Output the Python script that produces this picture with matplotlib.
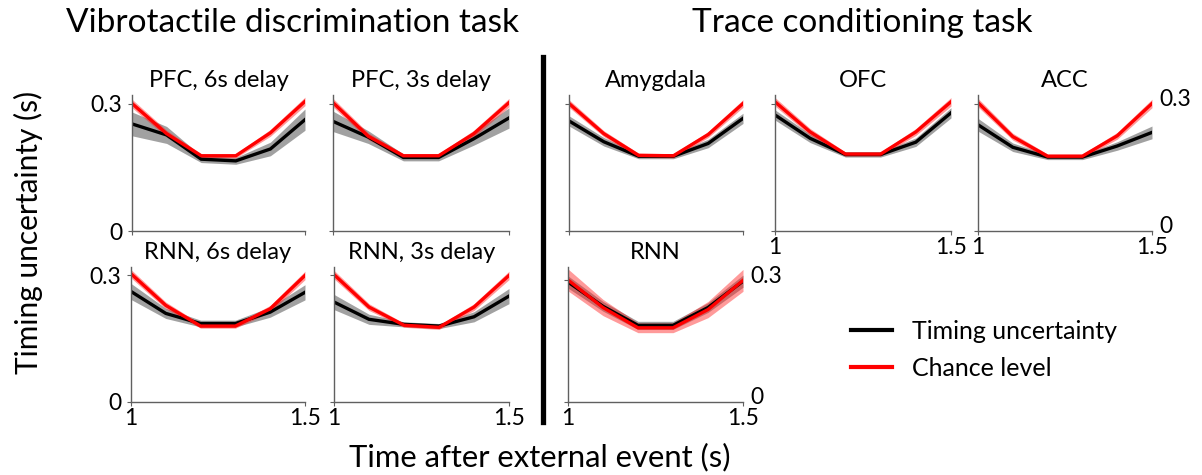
import matplotlib
matplotlib.use("Agg")
import matplotlib.pyplot as plt
from matplotlib.lines import Line2D
from matplotlib.transforms import offset_copy

plt.rcParams['font.family'] = ['Lato', 'DejaVu Sans']

W, H = 1202, 475

# time points (s)
x = [1.0, 1.1, 1.2, 1.3, 1.4, 1.5]
xtick_vals = [1.0, 1.5]
xtick_text = ['1', '1.5']
ytick_vals = [0, 0.3]
ytick_text = ['0', '0.3']

# vibrotactile discrimination task
pfc6_unc = [0.252, 0.226, 0.169, 0.165, 0.193, 0.262]
pfc6_unc_err = [0.028, 0.020, 0.008, 0.008, 0.016, 0.025]
pfc6_chance = [0.300, 0.229, 0.177, 0.177, 0.231, 0.305]
pfc6_chance_err = [0.010, 0.008, 0.005, 0.005, 0.008, 0.010]

pfc3_unc = [0.258, 0.221, 0.173, 0.173, 0.217, 0.266]
pfc3_unc_err = [0.024, 0.015, 0.008, 0.008, 0.015, 0.024]
pfc3_chance = [0.302, 0.223, 0.177, 0.177, 0.229, 0.302]
pfc3_chance_err = [0.010, 0.008, 0.005, 0.005, 0.008, 0.010]

rnn6_unc = [0.262, 0.210, 0.186, 0.186, 0.213, 0.260]
rnn6_unc_err = [0.019, 0.012, 0.008, 0.008, 0.012, 0.018]
rnn6_chance = [0.304, 0.229, 0.180, 0.180, 0.221, 0.300]
rnn6_chance_err = [0.010, 0.008, 0.005, 0.005, 0.008, 0.010]

rnn3_unc = [0.237, 0.196, 0.184, 0.180, 0.202, 0.251]
rnn3_unc_err = [0.018, 0.012, 0.006, 0.006, 0.012, 0.018]
rnn3_chance = [0.302, 0.225, 0.182, 0.177, 0.225, 0.300]
rnn3_chance_err = [0.010, 0.008, 0.005, 0.005, 0.008, 0.010]

# trace conditioning task
amy_unc = [0.259, 0.210, 0.176, 0.176, 0.206, 0.265]
amy_unc_err = [0.012, 0.010, 0.006, 0.006, 0.010, 0.012]
amy_chance = [0.300, 0.229, 0.178, 0.177, 0.227, 0.300]
amy_chance_err = [0.009, 0.007, 0.005, 0.005, 0.007, 0.009]

ofc_unc = [0.273, 0.218, 0.180, 0.180, 0.209, 0.278]
ofc_unc_err = [0.012, 0.010, 0.006, 0.006, 0.010, 0.012]
ofc_chance = [0.304, 0.233, 0.181, 0.181, 0.233, 0.304]
ofc_chance_err = [0.010, 0.008, 0.005, 0.005, 0.008, 0.010]

acc_unc = [0.250, 0.197, 0.174, 0.174, 0.200, 0.232]
acc_unc_err = [0.015, 0.010, 0.006, 0.006, 0.010, 0.015]
acc_chance = [0.302, 0.222, 0.176, 0.176, 0.224, 0.300]
acc_chance_err = [0.010, 0.008, 0.005, 0.005, 0.008, 0.010]

rnnt_unc = [0.296, 0.236, 0.189, 0.189, 0.233, 0.298]
rnnt_unc_err = [0.015, 0.012, 0.010, 0.010, 0.012, 0.015]
rnnt_chance = [0.301, 0.233, 0.183, 0.183, 0.228, 0.300]
rnnt_chance_err = [0.027, 0.020, 0.012, 0.012, 0.020, 0.027]

fig = plt.figure(figsize=(W / 100, H / 100), dpi=100)

TICK_FS = 16.5


def px_axes(x0, x1, top, bottom):
    return fig.add_axes([x0 / W, 1 - bottom / H, (x1 - x0) / W, (bottom - top) / H])


def draw_panel(ax, unc, unc_err, ch, ch_err, title, ylab=None, xlab=False, ytop=0.32):
    lo = [m - e for m, e in zip(unc, unc_err)]
    hi = [m + e for m, e in zip(unc, unc_err)]
    ax.fill_between(x, lo, hi, color='#7a7a7a', alpha=0.7, lw=0)
    ax.plot(x, unc, color='black', lw=2.4, solid_joinstyle='miter')
    lo = [m - e for m, e in zip(ch, ch_err)]
    hi = [m + e for m, e in zip(ch, ch_err)]
    ax.fill_between(x, lo, hi, color='#ff2020', alpha=0.45, lw=0)
    ax.plot(x, ch, color='#ff0000', lw=2.4, solid_joinstyle='miter')
    ax.set_xlim(1.0, 1.5)
    ax.set_ylim(0, ytop)
    for s in ('top', 'right'):
        ax.spines[s].set_visible(False)
    for s in ('left', 'bottom'):
        ax.spines[s].set_color('#606060')
        ax.spines[s].set_linewidth(1.0)
    ax.set_xticks(xtick_vals)
    ax.set_yticks(ytick_vals)
    ax.tick_params(length=3, width=0.8, color='#606060', labelsize=TICK_FS, pad=1)
    ax.set_xticklabels(xtick_text if xlab else [])
    ax.set_yticklabels(ytick_text)
    ax.tick_params(axis='y', labelleft=(ylab == 'left'), pad=4)
    if ylab == 'right':
        # value labels on the right edge, lifted slightly clear of the x labels
        tr = offset_copy(ax.get_yaxis_transform(), fig=fig, x=5, y=3, units='points')
        for v, t in zip(ytick_vals, ytick_text):
            ax.text(1.0, v, t, transform=tr, ha='left', va='center', fontsize=TICK_FS)
    ax.set_title(title, fontsize=17, pad=6)


ax = px_axes(132, 305, 95, 231)
draw_panel(ax, pfc6_unc, pfc6_unc_err, pfc6_chance, pfc6_chance_err, 'PFC, 6s delay', ylab='left')
ax = px_axes(333, 509, 95, 231)
draw_panel(ax, pfc3_unc, pfc3_unc_err, pfc3_chance, pfc3_chance_err, 'PFC, 3s delay')
ax = px_axes(131, 305, 267, 402)
draw_panel(ax, rnn6_unc, rnn6_unc_err, rnn6_chance, rnn6_chance_err, 'RNN, 6s delay', ylab='left', xlab=True)
ax = px_axes(334, 509, 267, 402)
draw_panel(ax, rnn3_unc, rnn3_unc_err, rnn3_chance, rnn3_chance_err, 'RNN, 3s delay', xlab=True)

ax = px_axes(569, 743, 95, 231)
draw_panel(ax, amy_unc, amy_unc_err, amy_chance, amy_chance_err, 'Amygdala')
ax = px_axes(775, 951, 95, 231)
draw_panel(ax, ofc_unc, ofc_unc_err, ofc_chance, ofc_chance_err, 'OFC', xlab=True)
ax = px_axes(978, 1152, 95, 231)
draw_panel(ax, acc_unc, acc_unc_err, acc_chance, acc_chance_err, 'ACC', ylab='right', xlab=True)
ax = px_axes(568, 743, 267, 402)
draw_panel(ax, rnnt_unc, rnnt_unc_err, rnnt_chance, rnnt_chance_err, 'RNN', ylab='right', xlab=True, ytop=0.333)

# group titles, shared axis labels, divider
fig.text(293 / W, 1 - 23 / H, 'Vibrotactile discrimination task', ha='center', va='center', fontsize=24)
fig.text(862 / W, 1 - 23 / H, 'Trace conditioning task', ha='center', va='center', fontsize=24)
fig.text(28 / W, 1 - 232 / H, 'Timing uncertainty (s)', rotation=90, ha='center', va='center', fontsize=21.5)
fig.text(540 / W, 1 - 457 / H, 'Time after external event (s)', ha='center', va='center', fontsize=22.3)
fig.add_artist(Line2D([542.5 / W, 542.5 / W], [1 - 57 / H, 1 - 422 / H], color='black', lw=3.8,
                      transform=fig.transFigure))

handles = [Line2D([], [], color='black', lw=3), Line2D([], [], color='#ff0000', lw=3)]
fig.legend(handles, ['Timing uncertainty', 'Chance level'], loc='upper left',
           bbox_to_anchor=(851 / W, 1 - 320 / H), frameon=False, fontsize=18,
           handlelength=1.65, handletextpad=0.8, labelspacing=0.55, borderpad=0, borderaxespad=0)

fig.savefig('out.png', dpi=100)
